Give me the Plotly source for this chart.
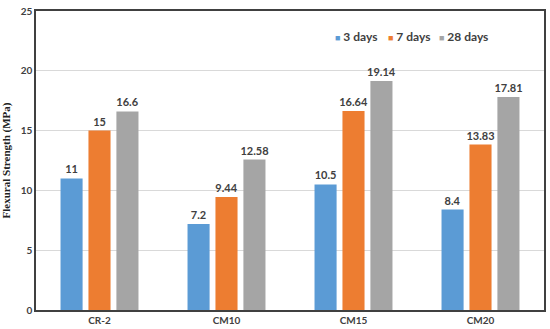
import plotly.graph_objects as go

categories = ["CR-2", "CM10", "CM15", "CM20"]
days3 = [11, 7.2, 10.5, 8.4]
days7 = [15, 9.44, 16.64, 13.83]
days28 = [16.6, 12.58, 19.14, 17.81]
series_names = ["3 days", "7 days", "28 days"]
colors = ["#5B9BD5", "#ED7D31", "#A5A5A5"]
y_ticks = [0, 5, 10, 15, 20, 25]

fig = go.Figure()
for name, vals, col in zip(series_names, [days3, days7, days28], colors):
    fig.add_trace(go.Bar(
        x=categories, y=vals, name=name, marker=dict(color=col, line=dict(width=0)),
        text=[f"{v:g}" for v in vals], textposition="outside", cliponaxis=False,
        constraintext="none", showlegend=False,
        textfont=dict(family="Lato", size=11, color="#404040", weight="bold"),
    ))

# legend drawn as text annotations (coloured square glyph + label)
legend_x = [0.585, 0.688, 0.790]
for name, col, lx in zip(series_names, colors, legend_x):
    fig.add_annotation(
        xref="paper", yref="paper", x=lx, y=0.915, xanchor="left", yanchor="middle",
        showarrow=False,
        text=f"<span style='color:{col};font-size:9px'>■</span> {name}",
        font=dict(family="Lato", size=12, color="#404040", weight="bold"),
    )

fig.update_layout(
    width=550, height=329,
    margin=dict(l=36, r=6, t=11, b=19),
    paper_bgcolor="white", plot_bgcolor="white",
    barmode="group", bargap=0.34, bargroupgap=0.21,
    font=dict(family="Lato", size=11, color="#404040"),
    showlegend=False,
    xaxis=dict(showline=True, linecolor="#404040", linewidth=1.5, mirror=True,
               ticks="", tickfont=dict(family="Lato", size=10, color="#404040", weight="bold"),
               showgrid=False, automargin=False),
    yaxis=dict(range=[0, 25], tickvals=y_ticks, showline=True, linecolor="#404040",
               linewidth=1.5, mirror=True, ticks="", showgrid=True, gridcolor="#D9D9D9",
               gridwidth=1, zeroline=False, automargin=False,
               tickfont=dict(family="Lato", size=10, color="#404040", weight="bold"),
               title=dict(text="Flexural Strength (MPa)", standoff=8,
                          font=dict(family="Liberation Serif", size=11, color="#222222", weight="bold"))),
)

fig.write_html("out.html", config={"displayModeBar": False},
               post_script="document.body.style.margin='0';document.body.style.overflow='hidden';")
